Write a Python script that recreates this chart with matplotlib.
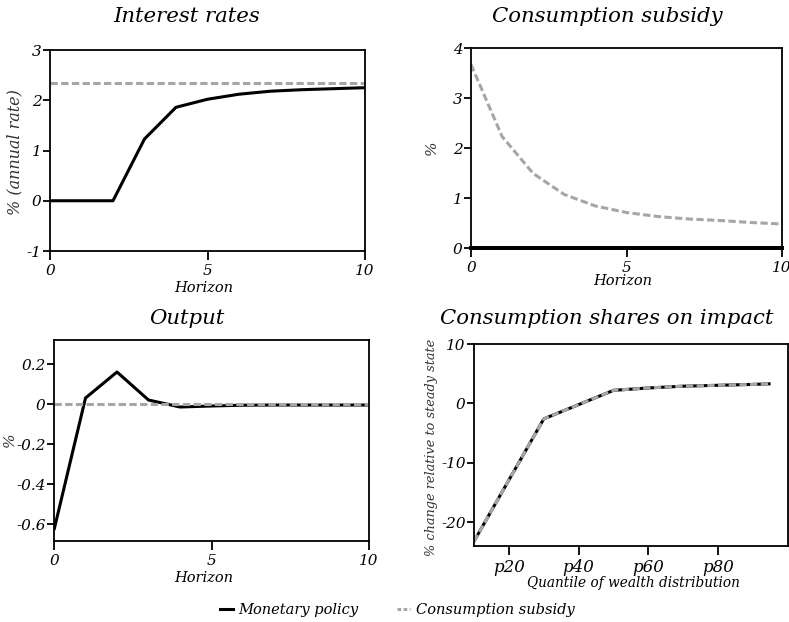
import matplotlib
matplotlib.use("Agg")
import matplotlib.pyplot as plt
from matplotlib.lines import Line2D

# horizons for the impulse responses
horizon = [0, 1, 2, 3, 4, 5, 6, 7, 8, 9, 10]

# interest rates (% annual rate)
rate_mp = [0.0, 0.0, 0.0, 1.23, 1.86, 2.02, 2.12, 2.18, 2.21, 2.23, 2.25]
rate_cs = [2.35, 2.35, 2.35, 2.35, 2.35, 2.35, 2.35, 2.35, 2.35, 2.35, 2.35]

# consumption subsidy (%)
subsidy_mp = [0, 0, 0, 0, 0, 0, 0, 0, 0, 0, 0]
subsidy_cs = [3.67, 2.23, 1.49, 1.07, 0.84, 0.71, 0.63, 0.58, 0.55, 0.51, 0.48]

# output (%)
output_mp = [-0.63, 0.03, 0.16, 0.02, -0.015, -0.01, -0.006, -0.005, -0.005, -0.005, -0.005]
output_cs = [0, 0, 0, 0, 0, 0, 0, 0, 0, 0, 0]

# consumption shares on impact by wealth quantile
quantile = [10, 20, 30, 40, 50, 60, 70, 80, 90, 95]
shares_mp = [-23.2, -12.9, -2.6, -0.2, 2.2, 2.6, 2.9, 3.05, 3.2, 3.3]
shares_cs = shares_mp
quantile_ticks = [20, 40, 60, 80]
quantile_labels = ["p20", "p40", "p60", "p80"]

plt.rcParams["font.family"] = "DejaVu Serif"
plt.rcParams["font.style"] = "italic"

BLACK = "#000000"
GREY = "#a6a6a6"
LW = 2.2
DASH = (2.4, 1.1)

fig = plt.figure(figsize=(7.89, 6.22), dpi=100)
W, H = 789, 622


def box(l, t, r, b):
    return [l / W, 1 - b / H, (r - l) / W, (b - t) / H]


def style(ax):
    for s in ax.spines.values():
        s.set_linewidth(1.3)
    ax.tick_params(axis="both", direction="out", width=1.3, labelsize=11,
                   top=False, right=False)
    ax.tick_params(axis="x", length=6.5, pad=3)
    ax.tick_params(axis="y", length=5, pad=1)


def draw(ax, x, a, b):
    ax.plot(x, a, color=BLACK, lw=LW, solid_capstyle="butt")
    ax.plot(x, b, color=GREY, lw=LW, dashes=DASH)


ax1 = fig.add_axes(box(50, 50, 365, 251))
draw(ax1, horizon, rate_mp, rate_cs)
ax1.set_xlim(0, 10)
ax1.set_ylim(-1, 3)
ax1.set_xticks([0, 5, 10])
ax1.set_yticks([-1, 0, 1, 2, 3])
style(ax1)

ax2 = fig.add_axes(box(471, 48, 782, 248))
ax2.plot(horizon, subsidy_mp, color=BLACK, lw=LW * 1.3, clip_on=False, zorder=3)
ax2.plot(horizon, subsidy_cs, color=GREY, lw=LW, dashes=DASH)
ax2.set_xlim(0, 10)
ax2.set_ylim(0, 4)
ax2.set_xticks([0, 5, 10])
ax2.set_yticks([0, 1, 2, 3, 4])
style(ax2)

ax3 = fig.add_axes(box(54, 340, 369, 541))
draw(ax3, horizon, output_mp, output_cs)
ax3.set_xlim(0, 10)
ax3.set_ylim(-0.685, 0.32)
ax3.set_xticks([0, 5, 10])
ax3.set_yticks([-0.6, -0.4, -0.2, 0, 0.2])
ax3.set_yticklabels(["-0.6", "-0.4", "-0.2", "0", "0.2"])
style(ax3)

ax4 = fig.add_axes(box(474, 344, 788, 546))
draw(ax4, quantile, shares_mp, shares_cs)
ax4.set_xlim(10, 100)
ax4.set_ylim(-24, 10)
ax4.set_xticks(quantile_ticks)
ax4.set_xticklabels(quantile_labels)
ax4.set_yticks([-20, -10, 0, 10])
style(ax4)
ax4.tick_params(axis="x", labelsize=12)

for ax in (ax1, ax2, ax3):
    ax.set_xticklabels(["0", "5", "10"])
ax1.set_yticklabels(["-1", "0", "1", "2", "3"])
ax2.set_yticklabels(["0", "1", "2", "3", "4"])
ax4.set_yticklabels(["-20", "-10", "0", "10"])

# panel titles
for x, y, s in [(187, 17, "Interest rates"), (607, 17, "Consumption subsidy"),
                (187, 318, "Output"), (607, 318, "Consumption shares on impact")]:
    fig.text(x / W, 1 - y / H, s, ha="center", va="center", fontsize=15.3)

# axis titles
for x, y, s, fs in [(204, 288, "Horizon", 10.5), (623, 281, "Horizon", 10.5),
                    (204, 578, "Horizon", 10.5),
                    (633, 583, "Quantile of wealth distribution", 9.8)]:
    fig.text(x / W, 1 - y / H, s, ha="center", va="center", fontsize=fs)

for x, y, s, fs in [(15, 152, "% (annual rate)", 11.5), (432, 148, "%", 11),
                    (10, 440, "%", 11),
                    (432, 447, "% change relative to steady state", 9.3)]:
    fig.text(x / W, 1 - y / H, s, ha="center", va="center", rotation=90,
             fontsize=fs, color="#333333")

handles = [Line2D([], [], color=BLACK, lw=LW),
           Line2D([], [], color=GREY, lw=LW, dashes=(1.2, 0.8))]
fig.legend(handles, ["Monetary policy", "Consumption subsidy"], loc="center",
           bbox_to_anchor=(397 / W, 1 - 610 / H), ncol=2, frameon=False,
           fontsize=10.5, handlelength=0.9, handletextpad=0.4, columnspacing=2.6)

fig.savefig("out.png", dpi=100)
